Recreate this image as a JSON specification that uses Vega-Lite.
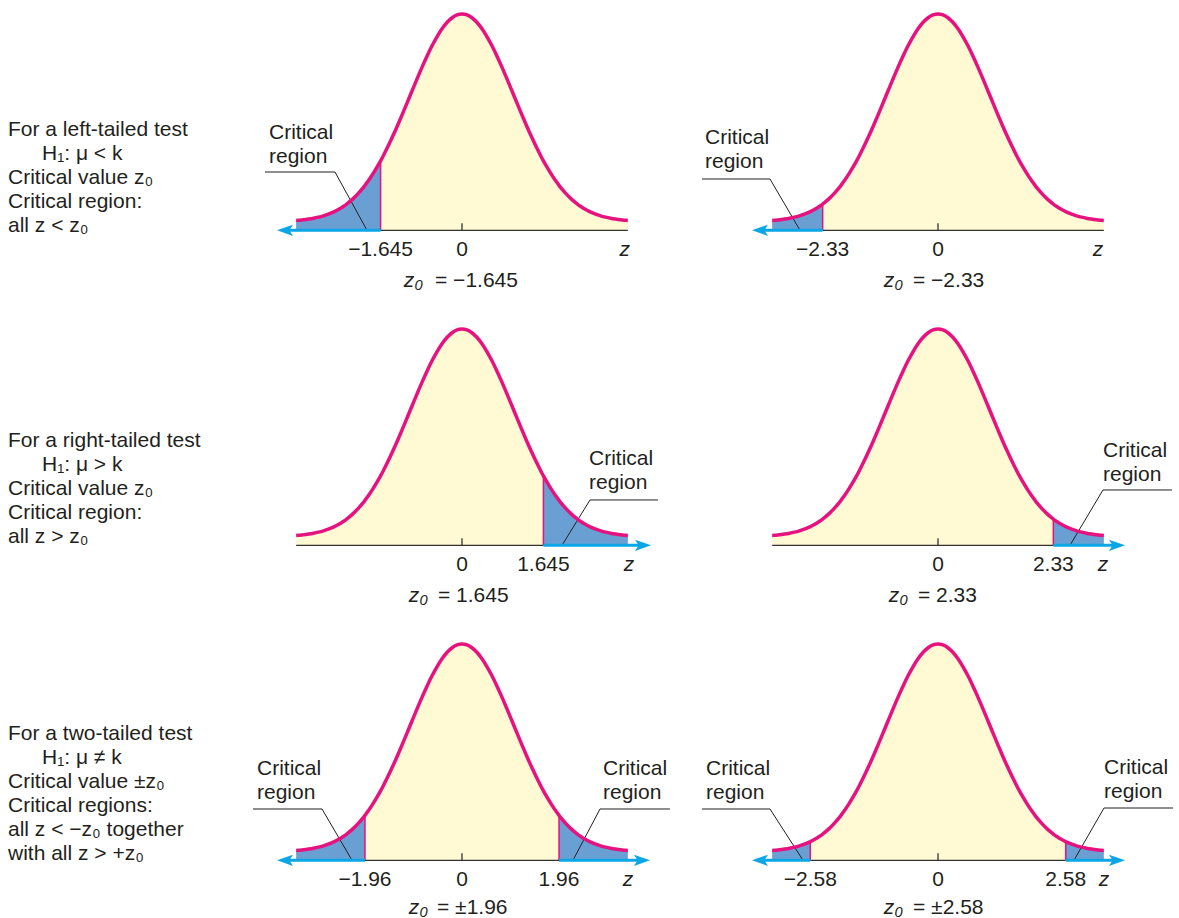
{
"$schema": "https://vega.github.io/schema/vega-lite/v6.json",
"padding": {"left": 8, "top": 6, "right": 0, "bottom": 0},
"background": "white",
"config": {"view": {"stroke": null}, "axis": {"disable": true}, "text": {"font": "Liberation Sans", "fontSize": 21, "color": "#231F20"}},
"datasets": {
"curve": [{"x":-3.35,"y":0.0189},{"x":-3.3,"y":0.0193},{"x":-3.2,"y":0.0202},{"x":-3.1,"y":0.0215},{"x":-3.0,"y":0.0231},{"x":-2.9,"y":0.0252},{"x":-2.8,"y":0.0278},{"x":-2.7,"y":0.0310},{"x":-2.6,"y":0.0350},{"x":-2.58,"y":0.0359},{"x":-2.5,"y":0.0398},{"x":-2.4,"y":0.0457},{"x":-2.33,"y":0.0504},{"x":-2.3,"y":0.0526},{"x":-2.2,"y":0.0608},{"x":-2.1,"y":0.0704},{"x":-2.0,"y":0.0814},{"x":-1.96,"y":0.0863},{"x":-1.9,"y":0.0940},{"x":-1.8,"y":0.1082},{"x":-1.7,"y":0.1240},{"x":-1.645,"y":0.1333},{"x":-1.6,"y":0.1413},{"x":-1.5,"y":0.1602},{"x":-1.4,"y":0.1804},{"x":-1.3,"y":0.2018},{"x":-1.2,"y":0.2240},{"x":-1.1,"y":0.2468},{"x":-1.0,"y":0.2699},{"x":-0.9,"y":0.2927},{"x":-0.8,"y":0.3148},{"x":-0.7,"y":0.3358},{"x":-0.6,"y":0.3552},{"x":-0.5,"y":0.3725},{"x":-0.4,"y":0.3874},{"x":-0.3,"y":0.3994},{"x":-0.2,"y":0.4081},{"x":-0.1,"y":0.4135},{"x":0,"y":0.4153},{"x":0.1,"y":0.4135},{"x":0.2,"y":0.4081},{"x":0.3,"y":0.3994},{"x":0.4,"y":0.3874},{"x":0.5,"y":0.3725},{"x":0.6,"y":0.3552},{"x":0.7,"y":0.3358},{"x":0.8,"y":0.3148},{"x":0.9,"y":0.2927},{"x":1.0,"y":0.2699},{"x":1.1,"y":0.2468},{"x":1.2,"y":0.2240},{"x":1.3,"y":0.2018},{"x":1.4,"y":0.1804},{"x":1.5,"y":0.1602},{"x":1.6,"y":0.1413},{"x":1.645,"y":0.1333},{"x":1.7,"y":0.1240},{"x":1.8,"y":0.1082},{"x":1.9,"y":0.0940},{"x":1.96,"y":0.0863},{"x":2.0,"y":0.0814},{"x":2.1,"y":0.0704},{"x":2.2,"y":0.0608},{"x":2.3,"y":0.0526},{"x":2.33,"y":0.0504},{"x":2.4,"y":0.0457},{"x":2.5,"y":0.0398},{"x":2.58,"y":0.0359},{"x":2.6,"y":0.0350},{"x":2.7,"y":0.0310},{"x":2.8,"y":0.0278},{"x":2.9,"y":0.0252},{"x":3.0,"y":0.0231},{"x":3.1,"y":0.0215},{"x":3.2,"y":0.0202},{"x":3.3,"y":0.0193},{"x":3.35,"y":0.0189}],
"ticks": [{"panel":"A","z":-1.645,"label":"−1.645"},{"panel":"A","z":0,"label":"0"},{"panel":"B","z":-2.33,"label":"−2.33"},{"panel":"B","z":0,"label":"0"},{"panel":"C","z":0,"label":"0"},{"panel":"C","z":1.645,"label":"1.645"},{"panel":"D","z":0,"label":"0"},{"panel":"D","z":2.33,"label":"2.33"},{"panel":"E","z":-1.96,"label":"−1.96"},{"panel":"E","z":0,"label":"0"},{"panel":"E","z":1.96,"label":"1.96"},{"panel":"F","z":-2.58,"label":"−2.58"},{"panel":"F","z":0,"label":"0"},{"panel":"F","z":2.58,"label":"2.58"}],
"notes": [
{"block":"A","line":1,"text":"For a left-tailed test"},
{"block":"A","line":2,"text":"H₁: μ < k"},
{"block":"A","line":3,"text":"Critical value z₀"},
{"block":"A","line":4,"text":"Critical region:"},
{"block":"A","line":5,"text":"all z < z₀"},
{"block":"B","line":1,"text":"For a right-tailed test"},
{"block":"B","line":2,"text":"H₁: μ > k"},
{"block":"B","line":3,"text":"Critical value z₀"},
{"block":"B","line":4,"text":"Critical region:"},
{"block":"B","line":5,"text":"all z > z₀"},
{"block":"C","line":1,"text":"For a two-tailed test"},
{"block":"C","line":2,"text":"H₁: μ ≠ k"},
{"block":"C","line":3,"text":"Critical value ±z₀"},
{"block":"C","line":4,"text":"Critical regions:"},
{"block":"C","line":5,"text":"all z < −z₀ together"},
{"block":"C","line":6,"text":"with all  z > +z₀"}
]
},
"columns": 3,
"spacing": {"row": 35, "column": 16},
"bounds": "flush",
"concat": [
{
"width": 208, "height": 280,
"data": {"name": "notes"},
"transform": [{"filter": "datum.block == 'A'"}],
"encoding": {
"y": {"field": "line", "type": "quantitative", "scale": {"domain": [-4.083, 7.583], "reverse": true, "nice": false, "zero": false}},
"text": {"field": "text"}},
"layer": [
{"transform": [{"filter": "datum.line != 2"}], "mark": {"type": "text", "align": "left", "baseline": "middle"},
 "encoding": {"x": {"datum": 0, "type": "quantitative", "scale": {"domain": [0, 1], "nice": false, "zero": false}}}},
{"transform": [{"filter": "datum.line == 2"}], "mark": {"type": "text", "align": "left", "baseline": "middle"},
 "encoding": {"x": {"datum": 0.1635, "type": "quantitative", "scale": {"domain": [0, 1], "nice": false, "zero": false}}}}
]
},
{
"width": 460, "height": 280,
"data": {"values": [{}]},
"layer": [
{"data": {"name": "curve"}, "mark": {"type": "area", "color": "#FFF9D4", "interpolate": "monotone"},
 "encoding": {"x": {"field": "x", "type": "quantitative", "scale": {"domain": [-4.6465, 4.6465], "nice": false, "zero": false}}, "y": {"field": "y", "type": "quantitative", "scale": {"domain": [-0.1108, 0.4268], "nice": false, "zero": false}}, "y2": {"datum": 0}}},
{"data": {"name": "curve"}, "transform": [{"filter": "datum.x <= -1.645"}], "mark": {"type": "area", "color": "#6A9FD3", "interpolate": "monotone"},
 "encoding": {"x": {"field": "x", "type": "quantitative", "scale": {"domain": [-4.6465, 4.6465], "nice": false, "zero": false}}, "y": {"field": "y", "type": "quantitative", "scale": {"domain": [-0.1108, 0.4268], "nice": false, "zero": false}}, "y2": {"datum": 0}}},
{"data": {"name": "curve"}, "transform": [{"filter": "datum.x == -1.645"}], "mark": {"type": "rule", "color": "#E5127F", "strokeWidth": 1.5},
 "encoding": {"x": {"field": "x", "type": "quantitative", "scale": {"domain": [-4.6465, 4.6465], "nice": false, "zero": false}}, "y": {"field": "y", "type": "quantitative", "scale": {"domain": [-0.1108, 0.4268], "nice": false, "zero": false}}, "y2": {"datum": 0}}},
{"mark": {"type": "rule", "color": "#231F20", "strokeWidth": 1},
 "encoding": {"x": {"datum": -3.980, "type": "quantitative", "scale": {"domain": [-4.6465, 4.6465], "nice": false, "zero": false}}, "x2": {"datum": -2.566}, "y": {"datum": 0.1119, "type": "quantitative", "scale": {"domain": [-0.1108, 0.4268], "nice": false, "zero": false}}}},
{"mark": {"type": "rule", "color": "#231F20", "strokeWidth": 1},
 "encoding": {"x": {"datum": -2.566, "type": "quantitative", "scale": {"domain": [-4.6465, 4.6465], "nice": false, "zero": false}}, "x2": {"datum": -1.919}, "y": {"datum": 0.1119, "type": "quantitative", "scale": {"domain": [-0.1108, 0.4268], "nice": false, "zero": false}}, "y2": {"datum": 0}}},
{"mark": {"type": "rule", "color": "#333333", "strokeWidth": 1.3},
 "encoding": {"x": {"datum": -1.645, "type": "quantitative", "scale": {"domain": [-4.6465, 4.6465], "nice": false, "zero": false}}, "x2": {"datum": 3.35}, "y": {"datum": 0, "type": "quantitative", "scale": {"domain": [-0.1108, 0.4268], "nice": false, "zero": false}}}},
{"mark": {"type": "rule", "color": "#0AA6E6", "strokeWidth": 3},
 "encoding": {"x": {"datum": -3.576, "type": "quantitative", "scale": {"domain": [-4.6465, 4.6465], "nice": false, "zero": false}}, "x2": {"datum": -1.645}, "y": {"datum": 0, "type": "quantitative", "scale": {"domain": [-0.1108, 0.4268], "nice": false, "zero": false}}}},
{"mark": {"type": "point", "shape": "M-1,0L1,-0.7L0.55,0L1,0.7Z", "size": 256, "filled": true, "opacity": 1, "color": "#0AA6E6", "strokeWidth": 0},
 "encoding": {"x": {"datum": -3.576, "type": "quantitative", "scale": {"domain": [-4.6465, 4.6465], "nice": false, "zero": false}}, "y": {"datum": 0, "type": "quantitative", "scale": {"domain": [-0.1108, 0.4268], "nice": false, "zero": false}}}},
{"mark": {"type": "rule", "color": "#333333", "strokeWidth": 1.3},
 "encoding": {"x": {"datum": 0, "type": "quantitative", "scale": {"domain": [-4.6465, 4.6465], "nice": false, "zero": false}}, "y": {"datum": 0, "type": "quantitative", "scale": {"domain": [-0.1108, 0.4268], "nice": false, "zero": false}}, "y2": {"datum": 0.0134}}},
{"data": {"name": "curve"}, "mark": {"type": "line", "color": "#E5127F", "strokeWidth": 3.5, "interpolate": "monotone"},
 "encoding": {"x": {"field": "x", "type": "quantitative", "scale": {"domain": [-4.6465, 4.6465], "nice": false, "zero": false}}, "y": {"field": "y", "type": "quantitative", "scale": {"domain": [-0.1108, 0.4268], "nice": false, "zero": false}}}},
{"data": {"name": "ticks"}, "transform": [{"filter": "datum.panel == 'A'"}], "mark": {"type": "text", "align": "center", "baseline": "middle"},
 "encoding": {"x": {"field": "z", "type": "quantitative", "scale": {"domain": [-4.6465, 4.6465], "nice": false, "zero": false}}, "y": {"datum": -0.0371, "type": "quantitative", "scale": {"domain": [-0.1108, 0.4268], "nice": false, "zero": false}}, "text": {"field": "label"}}},
{"mark": {"type": "text", "text": "z", "fontStyle": "italic", "align": "center", "baseline": "middle"},
 "encoding": {"x": {"datum": 3.29, "type": "quantitative", "scale": {"domain": [-4.6465, 4.6465], "nice": false, "zero": false}}, "y": {"datum": -0.0371, "type": "quantitative", "scale": {"domain": [-0.1108, 0.4268], "nice": false, "zero": false}}}},
{"mark": {"type": "text", "text": "z₀", "fontStyle": "italic", "align": "right", "baseline": "middle"},
 "encoding": {"x": {"datum": -0.788, "type": "quantitative", "scale": {"domain": [-4.6465, 4.6465], "nice": false, "zero": false}}, "y": {"datum": -0.0978, "type": "quantitative", "scale": {"domain": [-0.1108, 0.4268], "nice": false, "zero": false}}}},
{"mark": {"type": "text", "text": "= −1.645", "align": "left", "baseline": "middle"},
 "encoding": {"x": {"datum": -0.545, "type": "quantitative", "scale": {"domain": [-4.6465, 4.6465], "nice": false, "zero": false}}, "y": {"datum": -0.0978, "type": "quantitative", "scale": {"domain": [-0.1108, 0.4268], "nice": false, "zero": false}}}},
{"mark": {"type": "text", "text": ["Critical", "region"], "align": "left", "baseline": "top", "lineHeight": 24},
 "encoding": {"x": {"datum": -3.899, "type": "quantitative", "scale": {"domain": [-4.6465, 4.6465], "nice": false, "zero": false}}, "y": {"datum": 0.2079, "type": "quantitative", "scale": {"domain": [-0.1108, 0.4268], "nice": false, "zero": false}}}}
]
},
{
"width": 460, "height": 280,
"data": {"values": [{}]},
"layer": [
{"data": {"name": "curve"}, "mark": {"type": "area", "color": "#FFF9D4", "interpolate": "monotone"},
 "encoding": {"x": {"field": "x", "type": "quantitative", "scale": {"domain": [-4.6465, 4.6465], "nice": false, "zero": false}}, "y": {"field": "y", "type": "quantitative", "scale": {"domain": [-0.1108, 0.4268], "nice": false, "zero": false}}, "y2": {"datum": 0}}},
{"data": {"name": "curve"}, "transform": [{"filter": "datum.x <= -2.33"}], "mark": {"type": "area", "color": "#6A9FD3", "interpolate": "monotone"},
 "encoding": {"x": {"field": "x", "type": "quantitative", "scale": {"domain": [-4.6465, 4.6465], "nice": false, "zero": false}}, "y": {"field": "y", "type": "quantitative", "scale": {"domain": [-0.1108, 0.4268], "nice": false, "zero": false}}, "y2": {"datum": 0}}},
{"data": {"name": "curve"}, "transform": [{"filter": "datum.x == -2.33"}], "mark": {"type": "rule", "color": "#E5127F", "strokeWidth": 1.5},
 "encoding": {"x": {"field": "x", "type": "quantitative", "scale": {"domain": [-4.6465, 4.6465], "nice": false, "zero": false}}, "y": {"field": "y", "type": "quantitative", "scale": {"domain": [-0.1108, 0.4268], "nice": false, "zero": false}}, "y2": {"datum": 0}}},
{"mark": {"type": "rule", "color": "#231F20", "strokeWidth": 1},
 "encoding": {"x": {"datum": -4.768, "type": "quantitative", "scale": {"domain": [-4.6465, 4.6465], "nice": false, "zero": false}}, "x2": {"datum": -3.394}, "y": {"datum": 0.0985, "type": "quantitative", "scale": {"domain": [-0.1108, 0.4268], "nice": false, "zero": false}}}},
{"mark": {"type": "rule", "color": "#231F20", "strokeWidth": 1},
 "encoding": {"x": {"datum": -3.394, "type": "quantitative", "scale": {"domain": [-4.6465, 4.6465], "nice": false, "zero": false}}, "x2": {"datum": -2.788}, "y": {"datum": 0.0985, "type": "quantitative", "scale": {"domain": [-0.1108, 0.4268], "nice": false, "zero": false}}, "y2": {"datum": 0}}},
{"mark": {"type": "rule", "color": "#333333", "strokeWidth": 1.3},
 "encoding": {"x": {"datum": -2.33, "type": "quantitative", "scale": {"domain": [-4.6465, 4.6465], "nice": false, "zero": false}}, "x2": {"datum": 3.35}, "y": {"datum": 0, "type": "quantitative", "scale": {"domain": [-0.1108, 0.4268], "nice": false, "zero": false}}}},
{"mark": {"type": "rule", "color": "#0AA6E6", "strokeWidth": 3},
 "encoding": {"x": {"datum": -3.596, "type": "quantitative", "scale": {"domain": [-4.6465, 4.6465], "nice": false, "zero": false}}, "x2": {"datum": -2.33}, "y": {"datum": 0, "type": "quantitative", "scale": {"domain": [-0.1108, 0.4268], "nice": false, "zero": false}}}},
{"mark": {"type": "point", "shape": "M-1,0L1,-0.7L0.55,0L1,0.7Z", "size": 256, "filled": true, "opacity": 1, "color": "#0AA6E6", "strokeWidth": 0},
 "encoding": {"x": {"datum": -3.596, "type": "quantitative", "scale": {"domain": [-4.6465, 4.6465], "nice": false, "zero": false}}, "y": {"datum": 0, "type": "quantitative", "scale": {"domain": [-0.1108, 0.4268], "nice": false, "zero": false}}}},
{"mark": {"type": "rule", "color": "#333333", "strokeWidth": 1.3},
 "encoding": {"x": {"datum": 0, "type": "quantitative", "scale": {"domain": [-4.6465, 4.6465], "nice": false, "zero": false}}, "y": {"datum": 0, "type": "quantitative", "scale": {"domain": [-0.1108, 0.4268], "nice": false, "zero": false}}, "y2": {"datum": 0.0134}}},
{"data": {"name": "curve"}, "mark": {"type": "line", "color": "#E5127F", "strokeWidth": 3.5, "interpolate": "monotone"},
 "encoding": {"x": {"field": "x", "type": "quantitative", "scale": {"domain": [-4.6465, 4.6465], "nice": false, "zero": false}}, "y": {"field": "y", "type": "quantitative", "scale": {"domain": [-0.1108, 0.4268], "nice": false, "zero": false}}}},
{"data": {"name": "ticks"}, "transform": [{"filter": "datum.panel == 'B'"}], "mark": {"type": "text", "align": "center", "baseline": "middle"},
 "encoding": {"x": {"field": "z", "type": "quantitative", "scale": {"domain": [-4.6465, 4.6465], "nice": false, "zero": false}}, "y": {"datum": -0.0371, "type": "quantitative", "scale": {"domain": [-0.1108, 0.4268], "nice": false, "zero": false}}, "text": {"field": "label"}}},
{"mark": {"type": "text", "text": "z", "fontStyle": "italic", "align": "center", "baseline": "middle"},
 "encoding": {"x": {"datum": 3.232, "type": "quantitative", "scale": {"domain": [-4.6465, 4.6465], "nice": false, "zero": false}}, "y": {"datum": -0.0371, "type": "quantitative", "scale": {"domain": [-0.1108, 0.4268], "nice": false, "zero": false}}}},
{"mark": {"type": "text", "text": "z₀", "fontStyle": "italic", "align": "right", "baseline": "middle"},
 "encoding": {"x": {"datum": -0.707, "type": "quantitative", "scale": {"domain": [-4.6465, 4.6465], "nice": false, "zero": false}}, "y": {"datum": -0.0978, "type": "quantitative", "scale": {"domain": [-0.1108, 0.4268], "nice": false, "zero": false}}}},
{"mark": {"type": "text", "text": "= −2.33", "align": "left", "baseline": "middle"},
 "encoding": {"x": {"datum": -0.505, "type": "quantitative", "scale": {"domain": [-4.6465, 4.6465], "nice": false, "zero": false}}, "y": {"datum": -0.0978, "type": "quantitative", "scale": {"domain": [-0.1108, 0.4268], "nice": false, "zero": false}}}},
{"mark": {"type": "text", "text": ["Critical", "region"], "align": "left", "baseline": "top", "lineHeight": 24},
 "encoding": {"x": {"datum": -4.707, "type": "quantitative", "scale": {"domain": [-4.6465, 4.6465], "nice": false, "zero": false}}, "y": {"datum": 0.1983, "type": "quantitative", "scale": {"domain": [-0.1108, 0.4268], "nice": false, "zero": false}}}}
]
},
{
"width": 208, "height": 280,
"data": {"name": "notes"},
"transform": [{"filter": "datum.block == 'B'"}],
"encoding": {
"y": {"field": "line", "type": "quantitative", "scale": {"domain": [-3.917, 7.75], "reverse": true, "nice": false, "zero": false}},
"text": {"field": "text"}},
"layer": [
{"transform": [{"filter": "datum.line != 2"}], "mark": {"type": "text", "align": "left", "baseline": "middle"},
 "encoding": {"x": {"datum": 0, "type": "quantitative", "scale": {"domain": [0, 1], "nice": false, "zero": false}}}},
{"transform": [{"filter": "datum.line == 2"}], "mark": {"type": "text", "align": "left", "baseline": "middle"},
 "encoding": {"x": {"datum": 0.1635, "type": "quantitative", "scale": {"domain": [0, 1], "nice": false, "zero": false}}}}
]
},
{
"width": 460, "height": 280,
"data": {"values": [{}]},
"layer": [
{"data": {"name": "curve"}, "mark": {"type": "area", "color": "#FFF9D4", "interpolate": "monotone"},
 "encoding": {"x": {"field": "x", "type": "quantitative", "scale": {"domain": [-4.6465, 4.6465], "nice": false, "zero": false}}, "y": {"field": "y", "type": "quantitative", "scale": {"domain": [-0.1108, 0.4268], "nice": false, "zero": false}}, "y2": {"datum": 0}}},
{"data": {"name": "curve"}, "transform": [{"filter": "datum.x >= 1.645"}], "mark": {"type": "area", "color": "#6A9FD3", "interpolate": "monotone"},
 "encoding": {"x": {"field": "x", "type": "quantitative", "scale": {"domain": [-4.6465, 4.6465], "nice": false, "zero": false}}, "y": {"field": "y", "type": "quantitative", "scale": {"domain": [-0.1108, 0.4268], "nice": false, "zero": false}}, "y2": {"datum": 0}}},
{"data": {"name": "curve"}, "transform": [{"filter": "datum.x == 1.645"}], "mark": {"type": "rule", "color": "#E5127F", "strokeWidth": 1.5},
 "encoding": {"x": {"field": "x", "type": "quantitative", "scale": {"domain": [-4.6465, 4.6465], "nice": false, "zero": false}}, "y": {"field": "y", "type": "quantitative", "scale": {"domain": [-0.1108, 0.4268], "nice": false, "zero": false}}, "y2": {"datum": 0}}},
{"mark": {"type": "rule", "color": "#231F20", "strokeWidth": 1},
 "encoding": {"x": {"datum": 2.586, "type": "quantitative", "scale": {"domain": [-4.6465, 4.6465], "nice": false, "zero": false}}, "x2": {"datum": 3.960}, "y": {"datum": 0.0870, "type": "quantitative", "scale": {"domain": [-0.1108, 0.4268], "nice": false, "zero": false}}}},
{"mark": {"type": "rule", "color": "#231F20", "strokeWidth": 1},
 "encoding": {"x": {"datum": 2.586, "type": "quantitative", "scale": {"domain": [-4.6465, 4.6465], "nice": false, "zero": false}}, "x2": {"datum": 2.020}, "y": {"datum": 0.0870, "type": "quantitative", "scale": {"domain": [-0.1108, 0.4268], "nice": false, "zero": false}}, "y2": {"datum": 0}}},
{"mark": {"type": "rule", "color": "#333333", "strokeWidth": 1.3},
 "encoding": {"x": {"datum": -3.35, "type": "quantitative", "scale": {"domain": [-4.6465, 4.6465], "nice": false, "zero": false}}, "x2": {"datum": 1.645}, "y": {"datum": 0, "type": "quantitative", "scale": {"domain": [-0.1108, 0.4268], "nice": false, "zero": false}}}},
{"mark": {"type": "rule", "color": "#0AA6E6", "strokeWidth": 3},
 "encoding": {"x": {"datum": 1.645, "type": "quantitative", "scale": {"domain": [-4.6465, 4.6465], "nice": false, "zero": false}}, "x2": {"datum": 3.657}, "y": {"datum": 0, "type": "quantitative", "scale": {"domain": [-0.1108, 0.4268], "nice": false, "zero": false}}}},
{"mark": {"type": "point", "shape": "M1,0L-1,-0.7L-0.55,0L-1,0.7Z", "size": 256, "filled": true, "opacity": 1, "color": "#0AA6E6", "strokeWidth": 0},
 "encoding": {"x": {"datum": 3.657, "type": "quantitative", "scale": {"domain": [-4.6465, 4.6465], "nice": false, "zero": false}}, "y": {"datum": 0, "type": "quantitative", "scale": {"domain": [-0.1108, 0.4268], "nice": false, "zero": false}}}},
{"mark": {"type": "rule", "color": "#333333", "strokeWidth": 1.3},
 "encoding": {"x": {"datum": 0, "type": "quantitative", "scale": {"domain": [-4.6465, 4.6465], "nice": false, "zero": false}}, "y": {"datum": 0, "type": "quantitative", "scale": {"domain": [-0.1108, 0.4268], "nice": false, "zero": false}}, "y2": {"datum": 0.0134}}},
{"data": {"name": "curve"}, "mark": {"type": "line", "color": "#E5127F", "strokeWidth": 3.5, "interpolate": "monotone"},
 "encoding": {"x": {"field": "x", "type": "quantitative", "scale": {"domain": [-4.6465, 4.6465], "nice": false, "zero": false}}, "y": {"field": "y", "type": "quantitative", "scale": {"domain": [-0.1108, 0.4268], "nice": false, "zero": false}}}},
{"data": {"name": "ticks"}, "transform": [{"filter": "datum.panel == 'C'"}], "mark": {"type": "text", "align": "center", "baseline": "middle"},
 "encoding": {"x": {"field": "z", "type": "quantitative", "scale": {"domain": [-4.6465, 4.6465], "nice": false, "zero": false}}, "y": {"datum": -0.0371, "type": "quantitative", "scale": {"domain": [-0.1108, 0.4268], "nice": false, "zero": false}}, "text": {"field": "label"}}},
{"mark": {"type": "text", "text": "z", "fontStyle": "italic", "align": "center", "baseline": "middle"},
 "encoding": {"x": {"datum": 3.374, "type": "quantitative", "scale": {"domain": [-4.6465, 4.6465], "nice": false, "zero": false}}, "y": {"datum": -0.0371, "type": "quantitative", "scale": {"domain": [-0.1108, 0.4268], "nice": false, "zero": false}}}},
{"mark": {"type": "text", "text": "z₀", "fontStyle": "italic", "align": "right", "baseline": "middle"},
 "encoding": {"x": {"datum": -0.687, "type": "quantitative", "scale": {"domain": [-4.6465, 4.6465], "nice": false, "zero": false}}, "y": {"datum": -0.0978, "type": "quantitative", "scale": {"domain": [-0.1108, 0.4268], "nice": false, "zero": false}}}},
{"mark": {"type": "text", "text": "= 1.645", "align": "left", "baseline": "middle"},
 "encoding": {"x": {"datum": -0.485, "type": "quantitative", "scale": {"domain": [-4.6465, 4.6465], "nice": false, "zero": false}}, "y": {"datum": -0.0978, "type": "quantitative", "scale": {"domain": [-0.1108, 0.4268], "nice": false, "zero": false}}}},
{"mark": {"type": "text", "text": ["Critical", "region"], "align": "left", "baseline": "top", "lineHeight": 24},
 "encoding": {"x": {"datum": 2.566, "type": "quantitative", "scale": {"domain": [-4.6465, 4.6465], "nice": false, "zero": false}}, "y": {"datum": 0.1868, "type": "quantitative", "scale": {"domain": [-0.1108, 0.4268], "nice": false, "zero": false}}}}
]
},
{
"width": 460, "height": 280,
"data": {"values": [{}]},
"layer": [
{"data": {"name": "curve"}, "mark": {"type": "area", "color": "#FFF9D4", "interpolate": "monotone"},
 "encoding": {"x": {"field": "x", "type": "quantitative", "scale": {"domain": [-4.6465, 4.6465], "nice": false, "zero": false}}, "y": {"field": "y", "type": "quantitative", "scale": {"domain": [-0.1108, 0.4268], "nice": false, "zero": false}}, "y2": {"datum": 0}}},
{"data": {"name": "curve"}, "transform": [{"filter": "datum.x >= 2.33"}], "mark": {"type": "area", "color": "#6A9FD3", "interpolate": "monotone"},
 "encoding": {"x": {"field": "x", "type": "quantitative", "scale": {"domain": [-4.6465, 4.6465], "nice": false, "zero": false}}, "y": {"field": "y", "type": "quantitative", "scale": {"domain": [-0.1108, 0.4268], "nice": false, "zero": false}}, "y2": {"datum": 0}}},
{"data": {"name": "curve"}, "transform": [{"filter": "datum.x == 2.33"}], "mark": {"type": "rule", "color": "#E5127F", "strokeWidth": 1.5},
 "encoding": {"x": {"field": "x", "type": "quantitative", "scale": {"domain": [-4.6465, 4.6465], "nice": false, "zero": false}}, "y": {"field": "y", "type": "quantitative", "scale": {"domain": [-0.1108, 0.4268], "nice": false, "zero": false}}, "y2": {"datum": 0}}},
{"mark": {"type": "rule", "color": "#231F20", "strokeWidth": 1},
 "encoding": {"x": {"datum": 3.333, "type": "quantitative", "scale": {"domain": [-4.6465, 4.6465], "nice": false, "zero": false}}, "x2": {"datum": 4.727}, "y": {"datum": 0.1062, "type": "quantitative", "scale": {"domain": [-0.1108, 0.4268], "nice": false, "zero": false}}}},
{"mark": {"type": "rule", "color": "#231F20", "strokeWidth": 1},
 "encoding": {"x": {"datum": 3.333, "type": "quantitative", "scale": {"domain": [-4.6465, 4.6465], "nice": false, "zero": false}}, "x2": {"datum": 2.667}, "y": {"datum": 0.1062, "type": "quantitative", "scale": {"domain": [-0.1108, 0.4268], "nice": false, "zero": false}}, "y2": {"datum": 0}}},
{"mark": {"type": "rule", "color": "#333333", "strokeWidth": 1.3},
 "encoding": {"x": {"datum": -3.35, "type": "quantitative", "scale": {"domain": [-4.6465, 4.6465], "nice": false, "zero": false}}, "x2": {"datum": 2.33}, "y": {"datum": 0, "type": "quantitative", "scale": {"domain": [-0.1108, 0.4268], "nice": false, "zero": false}}}},
{"mark": {"type": "rule", "color": "#0AA6E6", "strokeWidth": 3},
 "encoding": {"x": {"datum": 2.33, "type": "quantitative", "scale": {"domain": [-4.6465, 4.6465], "nice": false, "zero": false}}, "x2": {"datum": 3.616}, "y": {"datum": 0, "type": "quantitative", "scale": {"domain": [-0.1108, 0.4268], "nice": false, "zero": false}}}},
{"mark": {"type": "point", "shape": "M1,0L-1,-0.7L-0.55,0L-1,0.7Z", "size": 256, "filled": true, "opacity": 1, "color": "#0AA6E6", "strokeWidth": 0},
 "encoding": {"x": {"datum": 3.616, "type": "quantitative", "scale": {"domain": [-4.6465, 4.6465], "nice": false, "zero": false}}, "y": {"datum": 0, "type": "quantitative", "scale": {"domain": [-0.1108, 0.4268], "nice": false, "zero": false}}}},
{"mark": {"type": "rule", "color": "#333333", "strokeWidth": 1.3},
 "encoding": {"x": {"datum": 0, "type": "quantitative", "scale": {"domain": [-4.6465, 4.6465], "nice": false, "zero": false}}, "y": {"datum": 0, "type": "quantitative", "scale": {"domain": [-0.1108, 0.4268], "nice": false, "zero": false}}, "y2": {"datum": 0.0134}}},
{"data": {"name": "curve"}, "mark": {"type": "line", "color": "#E5127F", "strokeWidth": 3.5, "interpolate": "monotone"},
 "encoding": {"x": {"field": "x", "type": "quantitative", "scale": {"domain": [-4.6465, 4.6465], "nice": false, "zero": false}}, "y": {"field": "y", "type": "quantitative", "scale": {"domain": [-0.1108, 0.4268], "nice": false, "zero": false}}}},
{"data": {"name": "ticks"}, "transform": [{"filter": "datum.panel == 'D'"}], "mark": {"type": "text", "align": "center", "baseline": "middle"},
 "encoding": {"x": {"field": "z", "type": "quantitative", "scale": {"domain": [-4.6465, 4.6465], "nice": false, "zero": false}}, "y": {"datum": -0.0371, "type": "quantitative", "scale": {"domain": [-0.1108, 0.4268], "nice": false, "zero": false}}, "text": {"field": "label"}}},
{"mark": {"type": "text", "text": "z", "fontStyle": "italic", "align": "center", "baseline": "middle"},
 "encoding": {"x": {"datum": 3.333, "type": "quantitative", "scale": {"domain": [-4.6465, 4.6465], "nice": false, "zero": false}}, "y": {"datum": -0.0371, "type": "quantitative", "scale": {"domain": [-0.1108, 0.4268], "nice": false, "zero": false}}}},
{"mark": {"type": "text", "text": "z₀", "fontStyle": "italic", "align": "right", "baseline": "middle"},
 "encoding": {"x": {"datum": -0.606, "type": "quantitative", "scale": {"domain": [-4.6465, 4.6465], "nice": false, "zero": false}}, "y": {"datum": -0.0978, "type": "quantitative", "scale": {"domain": [-0.1108, 0.4268], "nice": false, "zero": false}}}},
{"mark": {"type": "text", "text": "= 2.33", "align": "left", "baseline": "middle"},
 "encoding": {"x": {"datum": -0.404, "type": "quantitative", "scale": {"domain": [-4.6465, 4.6465], "nice": false, "zero": false}}, "y": {"datum": -0.0978, "type": "quantitative", "scale": {"domain": [-0.1108, 0.4268], "nice": false, "zero": false}}}},
{"mark": {"type": "text", "text": ["Critical", "region"], "align": "left", "baseline": "top", "lineHeight": 24},
 "encoding": {"x": {"datum": 3.333, "type": "quantitative", "scale": {"domain": [-4.6465, 4.6465], "nice": false, "zero": false}}, "y": {"datum": 0.2021, "type": "quantitative", "scale": {"domain": [-0.1108, 0.4268], "nice": false, "zero": false}}}}
]
},
{
"width": 208, "height": 280,
"data": {"name": "notes"},
"transform": [{"filter": "datum.block == 'C'"}],
"encoding": {
"y": {"field": "line", "type": "quantitative", "scale": {"domain": [-3, 8.667], "reverse": true, "nice": false, "zero": false}},
"text": {"field": "text"}},
"layer": [
{"transform": [{"filter": "datum.line != 2"}], "mark": {"type": "text", "align": "left", "baseline": "middle"},
 "encoding": {"x": {"datum": 0, "type": "quantitative", "scale": {"domain": [0, 1], "nice": false, "zero": false}}}},
{"transform": [{"filter": "datum.line == 2"}], "mark": {"type": "text", "align": "left", "baseline": "middle"},
 "encoding": {"x": {"datum": 0.1635, "type": "quantitative", "scale": {"domain": [0, 1], "nice": false, "zero": false}}}}
]
},
{
"width": 460, "height": 280,
"data": {"values": [{}]},
"layer": [
{"data": {"name": "curve"}, "mark": {"type": "area", "color": "#FFF9D4", "interpolate": "monotone"},
 "encoding": {"x": {"field": "x", "type": "quantitative", "scale": {"domain": [-4.6465, 4.6465], "nice": false, "zero": false}}, "y": {"field": "y", "type": "quantitative", "scale": {"domain": [-0.1108, 0.4268], "nice": false, "zero": false}}, "y2": {"datum": 0}}},
{"data": {"name": "curve"}, "transform": [{"filter": "datum.x <= -1.96"}], "mark": {"type": "area", "color": "#6A9FD3", "interpolate": "monotone"},
 "encoding": {"x": {"field": "x", "type": "quantitative", "scale": {"domain": [-4.6465, 4.6465], "nice": false, "zero": false}}, "y": {"field": "y", "type": "quantitative", "scale": {"domain": [-0.1108, 0.4268], "nice": false, "zero": false}}, "y2": {"datum": 0}}},
{"data": {"name": "curve"}, "transform": [{"filter": "datum.x >= 1.96"}], "mark": {"type": "area", "color": "#6A9FD3", "interpolate": "monotone"},
 "encoding": {"x": {"field": "x", "type": "quantitative", "scale": {"domain": [-4.6465, 4.6465], "nice": false, "zero": false}}, "y": {"field": "y", "type": "quantitative", "scale": {"domain": [-0.1108, 0.4268], "nice": false, "zero": false}}, "y2": {"datum": 0}}},
{"data": {"name": "curve"}, "transform": [{"filter": "datum.x == 1.96 || datum.x == -1.96"}], "mark": {"type": "rule", "color": "#E5127F", "strokeWidth": 1.5},
 "encoding": {"x": {"field": "x", "type": "quantitative", "scale": {"domain": [-4.6465, 4.6465], "nice": false, "zero": false}}, "y": {"field": "y", "type": "quantitative", "scale": {"domain": [-0.1108, 0.4268], "nice": false, "zero": false}}, "y2": {"datum": 0}}},
{"mark": {"type": "rule", "color": "#231F20", "strokeWidth": 1},
 "encoding": {"x": {"datum": -4.222, "type": "quantitative", "scale": {"domain": [-4.6465, 4.6465], "nice": false, "zero": false}}, "x2": {"datum": -2.828}, "y": {"datum": 0.0985, "type": "quantitative", "scale": {"domain": [-0.1108, 0.4268], "nice": false, "zero": false}}}},
{"mark": {"type": "rule", "color": "#231F20", "strokeWidth": 1},
 "encoding": {"x": {"datum": -2.828, "type": "quantitative", "scale": {"domain": [-4.6465, 4.6465], "nice": false, "zero": false}}, "x2": {"datum": -2.222}, "y": {"datum": 0.0985, "type": "quantitative", "scale": {"domain": [-0.1108, 0.4268], "nice": false, "zero": false}}, "y2": {"datum": 0}}},
{"mark": {"type": "rule", "color": "#231F20", "strokeWidth": 1},
 "encoding": {"x": {"datum": 2.788, "type": "quantitative", "scale": {"domain": [-4.6465, 4.6465], "nice": false, "zero": false}}, "x2": {"datum": 4.2}, "y": {"datum": 0.0985, "type": "quantitative", "scale": {"domain": [-0.1108, 0.4268], "nice": false, "zero": false}}}},
{"mark": {"type": "rule", "color": "#231F20", "strokeWidth": 1},
 "encoding": {"x": {"datum": 2.788, "type": "quantitative", "scale": {"domain": [-4.6465, 4.6465], "nice": false, "zero": false}}, "x2": {"datum": 2.242}, "y": {"datum": 0.0985, "type": "quantitative", "scale": {"domain": [-0.1108, 0.4268], "nice": false, "zero": false}}, "y2": {"datum": 0}}},
{"mark": {"type": "rule", "color": "#333333", "strokeWidth": 1.3},
 "encoding": {"x": {"datum": -1.96, "type": "quantitative", "scale": {"domain": [-4.6465, 4.6465], "nice": false, "zero": false}}, "x2": {"datum": 1.96}, "y": {"datum": 0, "type": "quantitative", "scale": {"domain": [-0.1108, 0.4268], "nice": false, "zero": false}}}},
{"mark": {"type": "rule", "color": "#0AA6E6", "strokeWidth": 3},
 "encoding": {"x": {"datum": -3.576, "type": "quantitative", "scale": {"domain": [-4.6465, 4.6465], "nice": false, "zero": false}}, "x2": {"datum": -1.96}, "y": {"datum": 0, "type": "quantitative", "scale": {"domain": [-0.1108, 0.4268], "nice": false, "zero": false}}}},
{"mark": {"type": "rule", "color": "#0AA6E6", "strokeWidth": 3},
 "encoding": {"x": {"datum": 1.96, "type": "quantitative", "scale": {"domain": [-4.6465, 4.6465], "nice": false, "zero": false}}, "x2": {"datum": 3.636}, "y": {"datum": 0, "type": "quantitative", "scale": {"domain": [-0.1108, 0.4268], "nice": false, "zero": false}}}},
{"mark": {"type": "point", "shape": "M-1,0L1,-0.7L0.55,0L1,0.7Z", "size": 256, "filled": true, "opacity": 1, "color": "#0AA6E6", "strokeWidth": 0},
 "encoding": {"x": {"datum": -3.576, "type": "quantitative", "scale": {"domain": [-4.6465, 4.6465], "nice": false, "zero": false}}, "y": {"datum": 0, "type": "quantitative", "scale": {"domain": [-0.1108, 0.4268], "nice": false, "zero": false}}}},
{"mark": {"type": "point", "shape": "M1,0L-1,-0.7L-0.55,0L-1,0.7Z", "size": 256, "filled": true, "opacity": 1, "color": "#0AA6E6", "strokeWidth": 0},
 "encoding": {"x": {"datum": 3.636, "type": "quantitative", "scale": {"domain": [-4.6465, 4.6465], "nice": false, "zero": false}}, "y": {"datum": 0, "type": "quantitative", "scale": {"domain": [-0.1108, 0.4268], "nice": false, "zero": false}}}},
{"mark": {"type": "rule", "color": "#333333", "strokeWidth": 1.3},
 "encoding": {"x": {"datum": 0, "type": "quantitative", "scale": {"domain": [-4.6465, 4.6465], "nice": false, "zero": false}}, "y": {"datum": 0, "type": "quantitative", "scale": {"domain": [-0.1108, 0.4268], "nice": false, "zero": false}}, "y2": {"datum": 0.0134}}},
{"data": {"name": "curve"}, "mark": {"type": "line", "color": "#E5127F", "strokeWidth": 3.5, "interpolate": "monotone"},
 "encoding": {"x": {"field": "x", "type": "quantitative", "scale": {"domain": [-4.6465, 4.6465], "nice": false, "zero": false}}, "y": {"field": "y", "type": "quantitative", "scale": {"domain": [-0.1108, 0.4268], "nice": false, "zero": false}}}},
{"data": {"name": "ticks"}, "transform": [{"filter": "datum.panel == 'E'"}], "mark": {"type": "text", "align": "center", "baseline": "middle"},
 "encoding": {"x": {"field": "z", "type": "quantitative", "scale": {"domain": [-4.6465, 4.6465], "nice": false, "zero": false}}, "y": {"datum": -0.0371, "type": "quantitative", "scale": {"domain": [-0.1108, 0.4268], "nice": false, "zero": false}}, "text": {"field": "label"}}},
{"mark": {"type": "text", "text": "z", "fontStyle": "italic", "align": "center", "baseline": "middle"},
 "encoding": {"x": {"datum": 3.354, "type": "quantitative", "scale": {"domain": [-4.6465, 4.6465], "nice": false, "zero": false}}, "y": {"datum": -0.0371, "type": "quantitative", "scale": {"domain": [-0.1108, 0.4268], "nice": false, "zero": false}}}},
{"mark": {"type": "text", "text": "z₀", "fontStyle": "italic", "align": "right", "baseline": "middle"},
 "encoding": {"x": {"datum": -0.687, "type": "quantitative", "scale": {"domain": [-4.6465, 4.6465], "nice": false, "zero": false}}, "y": {"datum": -0.092, "type": "quantitative", "scale": {"domain": [-0.1108, 0.4268], "nice": false, "zero": false}}}},
{"mark": {"type": "text", "text": "= ±1.96", "align": "left", "baseline": "middle"},
 "encoding": {"x": {"datum": -0.505, "type": "quantitative", "scale": {"domain": [-4.6465, 4.6465], "nice": false, "zero": false}}, "y": {"datum": -0.092, "type": "quantitative", "scale": {"domain": [-0.1108, 0.4268], "nice": false, "zero": false}}}},
{"mark": {"type": "text", "text": ["Critical", "region"], "align": "left", "baseline": "top", "lineHeight": 24},
 "encoding": {"x": {"datum": -4.141, "type": "quantitative", "scale": {"domain": [-4.6465, 4.6465], "nice": false, "zero": false}}, "y": {"datum": 0.1964, "type": "quantitative", "scale": {"domain": [-0.1108, 0.4268], "nice": false, "zero": false}}}},
{"mark": {"type": "text", "text": ["Critical", "region"], "align": "left", "baseline": "top", "lineHeight": 24},
 "encoding": {"x": {"datum": 2.848, "type": "quantitative", "scale": {"domain": [-4.6465, 4.6465], "nice": false, "zero": false}}, "y": {"datum": 0.1964, "type": "quantitative", "scale": {"domain": [-0.1108, 0.4268], "nice": false, "zero": false}}}}
]
},
{
"width": 460, "height": 280,
"data": {"values": [{}]},
"layer": [
{"data": {"name": "curve"}, "mark": {"type": "area", "color": "#FFF9D4", "interpolate": "monotone"},
 "encoding": {"x": {"field": "x", "type": "quantitative", "scale": {"domain": [-4.6465, 4.6465], "nice": false, "zero": false}}, "y": {"field": "y", "type": "quantitative", "scale": {"domain": [-0.1108, 0.4268], "nice": false, "zero": false}}, "y2": {"datum": 0}}},
{"data": {"name": "curve"}, "transform": [{"filter": "datum.x <= -2.58"}], "mark": {"type": "area", "color": "#6A9FD3", "interpolate": "monotone"},
 "encoding": {"x": {"field": "x", "type": "quantitative", "scale": {"domain": [-4.6465, 4.6465], "nice": false, "zero": false}}, "y": {"field": "y", "type": "quantitative", "scale": {"domain": [-0.1108, 0.4268], "nice": false, "zero": false}}, "y2": {"datum": 0}}},
{"data": {"name": "curve"}, "transform": [{"filter": "datum.x >= 2.58"}], "mark": {"type": "area", "color": "#6A9FD3", "interpolate": "monotone"},
 "encoding": {"x": {"field": "x", "type": "quantitative", "scale": {"domain": [-4.6465, 4.6465], "nice": false, "zero": false}}, "y": {"field": "y", "type": "quantitative", "scale": {"domain": [-0.1108, 0.4268], "nice": false, "zero": false}}, "y2": {"datum": 0}}},
{"data": {"name": "curve"}, "transform": [{"filter": "datum.x == 2.58 || datum.x == -2.58"}], "mark": {"type": "rule", "color": "#E5127F", "strokeWidth": 1.5},
 "encoding": {"x": {"field": "x", "type": "quantitative", "scale": {"domain": [-4.6465, 4.6465], "nice": false, "zero": false}}, "y": {"field": "y", "type": "quantitative", "scale": {"domain": [-0.1108, 0.4268], "nice": false, "zero": false}}, "y2": {"datum": 0}}},
{"mark": {"type": "rule", "color": "#231F20", "strokeWidth": 1},
 "encoding": {"x": {"datum": -4.768, "type": "quantitative", "scale": {"domain": [-4.6465, 4.6465], "nice": false, "zero": false}}, "x2": {"datum": -3.394}, "y": {"datum": 0.0985, "type": "quantitative", "scale": {"domain": [-0.1108, 0.4268], "nice": false, "zero": false}}}},
{"mark": {"type": "rule", "color": "#231F20", "strokeWidth": 1},
 "encoding": {"x": {"datum": -3.394, "type": "quantitative", "scale": {"domain": [-4.6465, 4.6465], "nice": false, "zero": false}}, "x2": {"datum": -2.727}, "y": {"datum": 0.0985, "type": "quantitative", "scale": {"domain": [-0.1108, 0.4268], "nice": false, "zero": false}}, "y2": {"datum": 0}}},
{"mark": {"type": "rule", "color": "#231F20", "strokeWidth": 1},
 "encoding": {"x": {"datum": 3.354, "type": "quantitative", "scale": {"domain": [-4.6465, 4.6465], "nice": false, "zero": false}}, "x2": {"datum": 4.747}, "y": {"datum": 0.1004, "type": "quantitative", "scale": {"domain": [-0.1108, 0.4268], "nice": false, "zero": false}}}},
{"mark": {"type": "rule", "color": "#231F20", "strokeWidth": 1},
 "encoding": {"x": {"datum": 3.354, "type": "quantitative", "scale": {"domain": [-4.6465, 4.6465], "nice": false, "zero": false}}, "x2": {"datum": 2.747}, "y": {"datum": 0.1004, "type": "quantitative", "scale": {"domain": [-0.1108, 0.4268], "nice": false, "zero": false}}, "y2": {"datum": 0}}},
{"mark": {"type": "rule", "color": "#333333", "strokeWidth": 1.3},
 "encoding": {"x": {"datum": -2.58, "type": "quantitative", "scale": {"domain": [-4.6465, 4.6465], "nice": false, "zero": false}}, "x2": {"datum": 2.58}, "y": {"datum": 0, "type": "quantitative", "scale": {"domain": [-0.1108, 0.4268], "nice": false, "zero": false}}}},
{"mark": {"type": "rule", "color": "#0AA6E6", "strokeWidth": 3},
 "encoding": {"x": {"datum": -3.596, "type": "quantitative", "scale": {"domain": [-4.6465, 4.6465], "nice": false, "zero": false}}, "x2": {"datum": -2.58}, "y": {"datum": 0, "type": "quantitative", "scale": {"domain": [-0.1108, 0.4268], "nice": false, "zero": false}}}},
{"mark": {"type": "rule", "color": "#0AA6E6", "strokeWidth": 3},
 "encoding": {"x": {"datum": 2.58, "type": "quantitative", "scale": {"domain": [-4.6465, 4.6465], "nice": false, "zero": false}}, "x2": {"datum": 3.616}, "y": {"datum": 0, "type": "quantitative", "scale": {"domain": [-0.1108, 0.4268], "nice": false, "zero": false}}}},
{"mark": {"type": "point", "shape": "M-1,0L1,-0.7L0.55,0L1,0.7Z", "size": 256, "filled": true, "opacity": 1, "color": "#0AA6E6", "strokeWidth": 0},
 "encoding": {"x": {"datum": -3.596, "type": "quantitative", "scale": {"domain": [-4.6465, 4.6465], "nice": false, "zero": false}}, "y": {"datum": 0, "type": "quantitative", "scale": {"domain": [-0.1108, 0.4268], "nice": false, "zero": false}}}},
{"mark": {"type": "point", "shape": "M1,0L-1,-0.7L-0.55,0L-1,0.7Z", "size": 256, "filled": true, "opacity": 1, "color": "#0AA6E6", "strokeWidth": 0},
 "encoding": {"x": {"datum": 3.616, "type": "quantitative", "scale": {"domain": [-4.6465, 4.6465], "nice": false, "zero": false}}, "y": {"datum": 0, "type": "quantitative", "scale": {"domain": [-0.1108, 0.4268], "nice": false, "zero": false}}}},
{"mark": {"type": "rule", "color": "#333333", "strokeWidth": 1.3},
 "encoding": {"x": {"datum": 0, "type": "quantitative", "scale": {"domain": [-4.6465, 4.6465], "nice": false, "zero": false}}, "y": {"datum": 0, "type": "quantitative", "scale": {"domain": [-0.1108, 0.4268], "nice": false, "zero": false}}, "y2": {"datum": 0.0134}}},
{"data": {"name": "curve"}, "mark": {"type": "line", "color": "#E5127F", "strokeWidth": 3.5, "interpolate": "monotone"},
 "encoding": {"x": {"field": "x", "type": "quantitative", "scale": {"domain": [-4.6465, 4.6465], "nice": false, "zero": false}}, "y": {"field": "y", "type": "quantitative", "scale": {"domain": [-0.1108, 0.4268], "nice": false, "zero": false}}}},
{"data": {"name": "ticks"}, "transform": [{"filter": "datum.panel == 'F'"}], "mark": {"type": "text", "align": "center", "baseline": "middle"},
 "encoding": {"x": {"field": "z", "type": "quantitative", "scale": {"domain": [-4.6465, 4.6465], "nice": false, "zero": false}}, "y": {"datum": -0.0371, "type": "quantitative", "scale": {"domain": [-0.1108, 0.4268], "nice": false, "zero": false}}, "text": {"field": "label"}}},
{"mark": {"type": "text", "text": "z", "fontStyle": "italic", "align": "center", "baseline": "middle"},
 "encoding": {"x": {"datum": 3.354, "type": "quantitative", "scale": {"domain": [-4.6465, 4.6465], "nice": false, "zero": false}}, "y": {"datum": -0.0371, "type": "quantitative", "scale": {"domain": [-0.1108, 0.4268], "nice": false, "zero": false}}}},
{"mark": {"type": "text", "text": "z₀", "fontStyle": "italic", "align": "right", "baseline": "middle"},
 "encoding": {"x": {"datum": -0.707, "type": "quantitative", "scale": {"domain": [-4.6465, 4.6465], "nice": false, "zero": false}}, "y": {"datum": -0.092, "type": "quantitative", "scale": {"domain": [-0.1108, 0.4268], "nice": false, "zero": false}}}},
{"mark": {"type": "text", "text": "= ±2.58", "align": "left", "baseline": "middle"},
 "encoding": {"x": {"datum": -0.505, "type": "quantitative", "scale": {"domain": [-4.6465, 4.6465], "nice": false, "zero": false}}, "y": {"datum": -0.092, "type": "quantitative", "scale": {"domain": [-0.1108, 0.4268], "nice": false, "zero": false}}}},
{"mark": {"type": "text", "text": ["Critical", "region"], "align": "left", "baseline": "top", "lineHeight": 24},
 "encoding": {"x": {"datum": -4.687, "type": "quantitative", "scale": {"domain": [-4.6465, 4.6465], "nice": false, "zero": false}}, "y": {"datum": 0.1964, "type": "quantitative", "scale": {"domain": [-0.1108, 0.4268], "nice": false, "zero": false}}}},
{"mark": {"type": "text", "text": ["Critical", "region"], "align": "left", "baseline": "top", "lineHeight": 24},
 "encoding": {"x": {"datum": 3.354, "type": "quantitative", "scale": {"domain": [-4.6465, 4.6465], "nice": false, "zero": false}}, "y": {"datum": 0.1983, "type": "quantitative", "scale": {"domain": [-0.1108, 0.4268], "nice": false, "zero": false}}}}
]
}
]
}
